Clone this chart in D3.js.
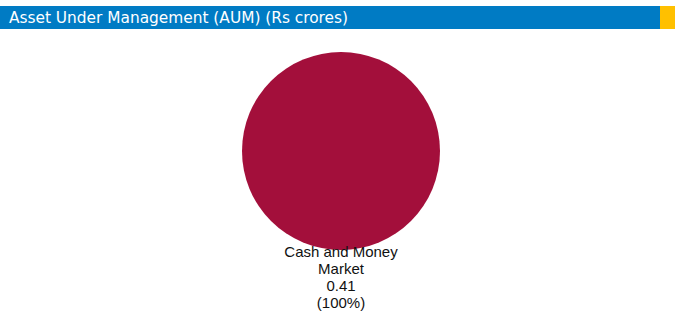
<!DOCTYPE html>
<html>
<head>
<meta charset="utf-8">
<script src="https://cdn.jsdelivr.net/npm/d3@7"></script>
<style>
  body { margin: 0; background: #fff; }
  svg { display: block; }
</style>
</head>
<body>
<svg></svg>
<script>
const width = 675;
const height = 312;

const title = 'Asset Under Management (AUM) (Rs crores)';
const categories = ['Cash and Money Market'];
const values = [0.41];
const colors = ['#a30f3b'];

const svg = d3.select('svg')
    .attr('width', width)
    .attr('height', height);

// header band
svg.append('rect')
    .attr('x', 0).attr('y', 6)
    .attr('width', 660).attr('height', 23)
    .attr('fill', '#007bc4');
svg.append('rect')
    .attr('x', 660).attr('y', 6)
    .attr('width', 15).attr('height', 23)
    .attr('fill', '#ffc000');
svg.append('text')
    .attr('x', 9).attr('y', 23)
    .attr('fill', '#fff')
    .attr('textLength', 339)
    .attr('lengthAdjust', 'spacingAndGlyphs')
    .style('font-family', '"DejaVu Sans Condensed", "DejaVu Sans", sans-serif')
    .style('font-size', '16px')
    .text(title);

const cx = 341, cy = 151, r = 99;
const pie = d3.pie().sort(null);
const arc = d3.arc().innerRadius(0).outerRadius(r);
const total = d3.sum(values);

const g = svg.append('g').attr('transform', `translate(${cx},${cy})`);
g.selectAll('path')
    .data(pie(values))
    .join('path')
    .attr('d', arc)
    .attr('fill', (d, i) => colors[i]);

// label under the pie
const lines = ['Cash and Money', 'Market', values[0].toFixed(2), `(${d3.format('.0%')(values[0] / total)})`];
const label = svg.append('text')
    .attr('text-anchor', 'middle')
    .style('font-family', '"Liberation Sans", Arial, sans-serif')
    .style('font-size', '15px')
    .attr('fill', '#111');
lines.forEach((t, i) => {
    label.append('tspan')
        .attr('x', cx)
        .attr('y', 257 + i * 17)
        .text(t);
});
</script>
</body>
</html>
